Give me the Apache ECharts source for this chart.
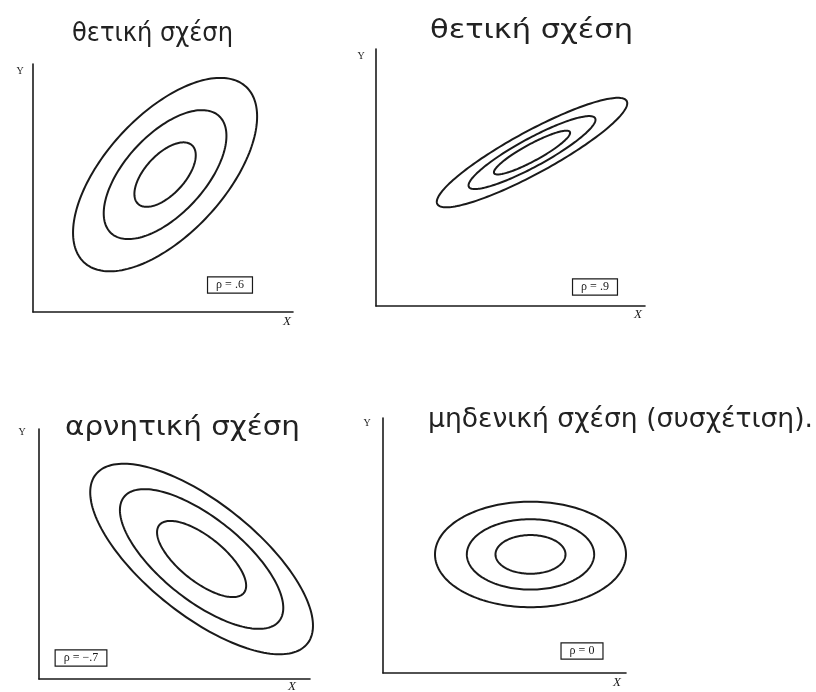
<!DOCTYPE html>
<html>
<head>
<meta charset="utf-8">
<script src="https://cdn.jsdelivr.net/npm/echarts@6/dist/echarts.min.js"></script>
<style>
  html, body { margin: 0; padding: 0; background: #fff; }
  #chart { width: 816px; height: 692px; }
</style>
</head>
<body>
<div id="chart"></div>
<script>
// Four bivariate-normal contour diagrams, one per correlation value.
const panelTitles = ['θετική σχέση', 'θετική σχέση', 'αρνητική σχέση', 'μηδενική σχέση (συσχέτιση).'];
const rhoLabels = ['ρ = .6', 'ρ = .9', 'ρ = −.7', 'ρ = 0'];
const rhos = [0.6, 0.9, -0.7, 0];
// centre of each distribution (axis units, both axes run 0..10)
const meanX = [5.08, 5.80, 6.00, 6.07];
const meanY = [5.54, 5.97, 4.80, 4.65];
// standard deviations along X and Y
const sdX = [1.18, 1.18, 1.37, 1.31];
const sdY = [1.30, 0.71, 1.27, 0.69];
// contour radii (in standard-deviation units), inner to outer
const contourLevels = [
  [1.0, 2.0, 3.0],
  [1.2, 2.0, 3.0],
  [1.2, 2.2, 3.0],
  [1.1, 2.0, 3.0]
];

// panel frames in pixels: left, top, width, height
const frames = [
  [33, 64, 260, 248],
  [376, 49, 269, 257],
  [39, 429, 271, 250],
  [383, 418, 243, 255]
];

const ink = '#1a1a1a';

function ellipseItem(params, api) {
  const mx = api.value(0), my = api.value(1);
  const sx = api.value(2), sy = api.value(3);
  const r = api.value(4), c = api.value(5);
  const k = Math.sqrt(1 - r * r);
  const pts = [];
  const n = 180;
  for (let i = 0; i < n; i++) {
    const t = (i / n) * Math.PI * 2;
    const u = Math.cos(t), v = Math.sin(t);
    pts.push(api.coord([mx + c * sx * u, my + c * sy * (r * u + k * v)]));
  }
  return {
    type: 'polygon',
    shape: { points: pts, smooth: 0 },
    style: { fill: 'none', stroke: ink, lineWidth: 2 }
  };
}

const grids = [], xAxes = [], yAxes = [], series = [];
frames.forEach((f, i) => {
  grids.push({ left: f[0], top: f[1], width: f[2], height: f[3] });
  const axisCommon = {
    type: 'value', min: 0, max: 10, gridIndex: i,
    axisLine: { show: true, onZero: false, lineStyle: { color: ink, width: 1.6 } },
    axisTick: { show: false }, axisLabel: { show: false }, splitLine: { show: false }
  };
  xAxes.push(Object.assign({}, axisCommon));
  yAxes.push(Object.assign({}, axisCommon));
  series.push({
    type: 'custom',
    xAxisIndex: i, yAxisIndex: i,
    renderItem: ellipseItem,
    silent: true,
    clip: false,
    data: contourLevels[i].map(c => [meanX[i], meanY[i], sdX[i], sdY[i], rhos[i], c])
  });
});

// text placements (pixels): x, y, target width
const titlePos = [[72, 34, 161], [430, 31, 203], [65, 428, 235], [428, 420, 385]];
const yLabelPos = [[20, 71], [361, 56], [22, 432], [367, 423]];
const xLabelPos = [[287, 322], [638, 315], [292, 687], [617, 683]];
const boxPos = [[230, 285], [595, 287], [81, 658], [582, 651]];

const titleFont = '27px "DejaVu Sans"';
function textWidth(str, font) {
  const ctx = document.createElement('canvas').getContext('2d');
  ctx.font = font;
  return ctx.measureText(str).width;
}

const graphic = [];
panelTitles.forEach((t, i) => {
  const p = titlePos[i];
  const w = textWidth(t, titleFont);
  graphic.push({
    type: 'text', x: p[0], y: p[1], scaleX: p[2] / w,
    style: { text: t, font: titleFont, fill: '#222', textVerticalAlign: 'middle' }
  });
  graphic.push({
    type: 'text', x: yLabelPos[i][0], y: yLabelPos[i][1],
    style: { text: 'Y', font: '10px "Liberation Serif"', fill: ink, textAlign: 'center', textVerticalAlign: 'middle' }
  });
  graphic.push({
    type: 'text', x: xLabelPos[i][0], y: xLabelPos[i][1],
    style: { text: 'X', font: 'italic 13px "Liberation Serif"', fill: ink, textAlign: 'center', textVerticalAlign: 'middle' }
  });
  graphic.push({
    type: 'text', x: boxPos[i][0], y: boxPos[i][1],
    style: {
      text: rhoLabels[i], font: '12px "Liberation Serif"', fill: ink,
      textAlign: 'center', textVerticalAlign: 'middle',
      borderColor: ink, borderWidth: 1.2, padding: [2, 8, 1, 8], backgroundColor: '#fff'
    }
  });
});

const chart = echarts.init(document.getElementById('chart'));
chart.setOption({
  animation: false,
  backgroundColor: '#fff',
  grid: grids, xAxis: xAxes, yAxis: yAxes,
  series: series,
  graphic: graphic
});
</script>
</body>
</html>
